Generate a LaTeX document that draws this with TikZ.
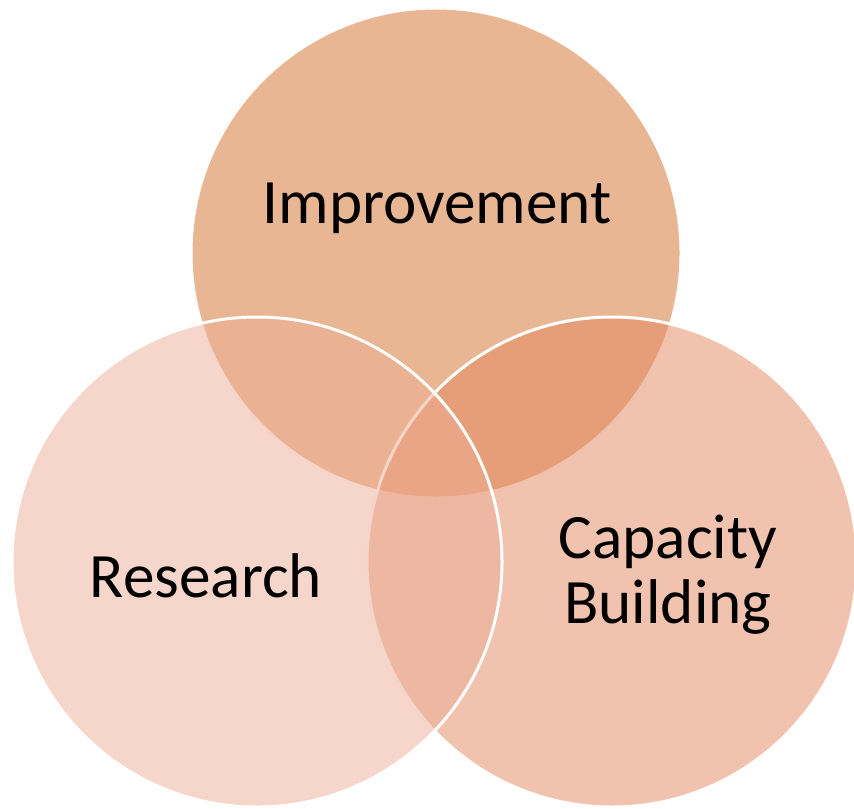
\documentclass[tikz,border=0pt]{standalone}
\usepackage{fontspec}
\setmainfont{Carlito}
\definecolor{venntop}{HTML}{D16D27}
\definecolor{vennright}{HTML}{E3875D}
\definecolor{vennleft}{HTML}{EDAD95}

\begin{document}
\begin{tikzpicture}[x=0.5pt,y=-0.5pt,
   venn/.style={circle, minimum size=245pt, inner sep=0pt, draw=white, line width=1.5pt, fill opacity=0.5},
   venntext/.style={font=\fontsize{31.6}{32.2}\selectfont, align=center, anchor=base, inner sep=0pt}]
   \useasboundingbox (0,0) rectangle (854,808);
   % circles, drawn top, right, left
   \node[venn, fill=venntop]   (improve)  at (436,253) {};
   \node[venn, fill=vennright] (capacity) at (612,562) {};
   \node[venn, fill=vennleft]  (research) at (257,562) {};
   % labels
   \node[venntext] (improvetext)  at (437,223) {Improvement};
   \node[venntext] (researchtext) at (206,597) {Research};
   \node[venntext] (capacitytext) at (668,623) {Capacity\\Building};
\end{tikzpicture}
\end{document}
